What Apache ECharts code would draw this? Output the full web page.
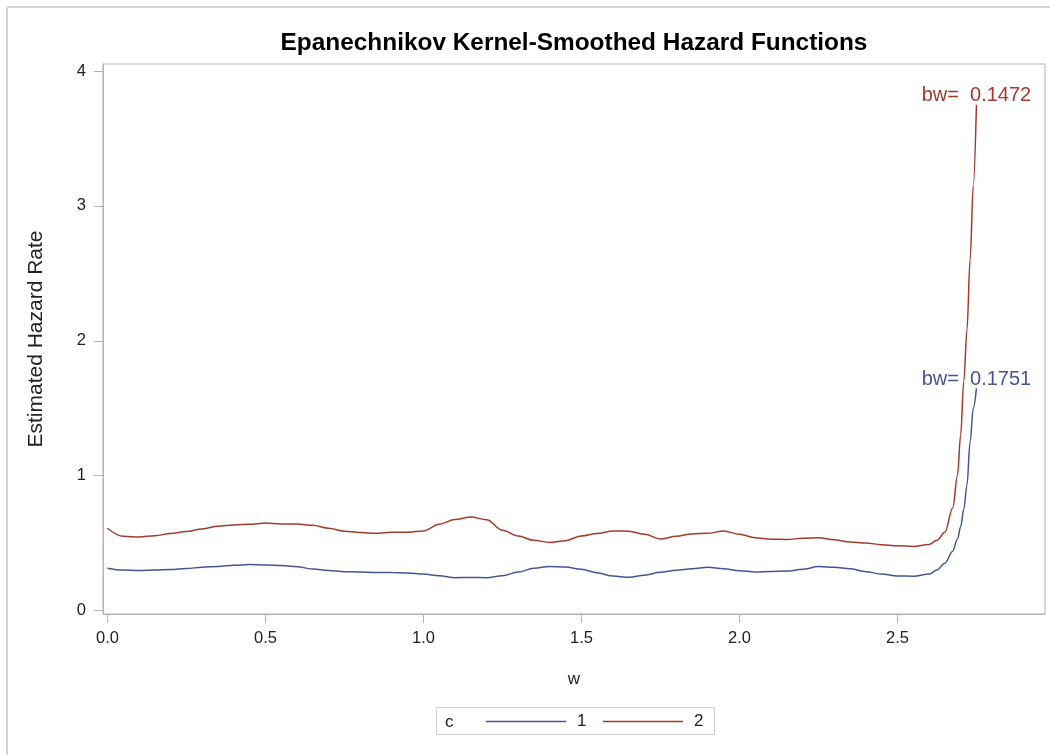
<!DOCTYPE html>
<html>
<head>
<meta charset="utf-8">
<script src="https://cdn.jsdelivr.net/npm/echarts@6/dist/echarts.min.js"></script>
<style>
  html, body { margin: 0; padding: 0; background: #fff; }
  #chart { width: 1050px; height: 755px; }
</style>
</head>
<body>
<div id="chart"></div>
<script>
// Time grid (w) shared by both hazard curves
const wValues = [
  0.00, 0.05, 0.10, 0.15, 0.20, 0.25, 0.30, 0.35, 0.40, 0.45,
  0.50, 0.55, 0.60, 0.65, 0.70, 0.75, 0.80, 0.85, 0.90, 0.95,
  1.00, 1.05, 1.10, 1.15, 1.20, 1.25, 1.30, 1.35, 1.40, 1.45,
  1.50, 1.55, 1.60, 1.65, 1.70, 1.75, 1.80, 1.85, 1.90, 1.95,
  2.00, 2.05, 2.10, 2.15, 2.20, 2.25, 2.30, 2.35, 2.40, 2.45,
  2.50, 2.55, 2.60, 2.625, 2.65, 2.675, 2.69, 2.70, 2.71, 2.72,
  2.73, 2.74, 2.75
];

// Estimated hazard rate, group c = 1
const hazard1 = [
  0.314, 0.300, 0.297, 0.300, 0.304, 0.312, 0.320, 0.327, 0.335, 0.341,
  0.338, 0.334, 0.325, 0.307, 0.296, 0.288, 0.285, 0.282, 0.281, 0.278,
  0.270, 0.258, 0.243, 0.245, 0.243, 0.258, 0.285, 0.313, 0.327, 0.322,
  0.305, 0.280, 0.255, 0.247, 0.262, 0.283, 0.298, 0.310, 0.321, 0.310,
  0.295, 0.286, 0.290, 0.292, 0.305, 0.326, 0.320, 0.309, 0.288, 0.270,
  0.256, 0.254, 0.270, 0.300, 0.350, 0.440, 0.530, 0.620, 0.750, 0.930,
  1.250, 1.500, 1.647
];

// Estimated hazard rate, group c = 2
const hazard2 = [
  0.610, 0.550, 0.545, 0.555, 0.570, 0.585, 0.605, 0.625, 0.634, 0.640,
  0.648, 0.641, 0.641, 0.632, 0.610, 0.588, 0.578, 0.572, 0.580, 0.580,
  0.590, 0.640, 0.675, 0.693, 0.673, 0.595, 0.552, 0.520, 0.505, 0.518,
  0.553, 0.570, 0.590, 0.588, 0.565, 0.530, 0.550, 0.568, 0.572, 0.590,
  0.565, 0.540, 0.528, 0.527, 0.535, 0.540, 0.524, 0.508, 0.500, 0.488,
  0.480, 0.475, 0.490, 0.520, 0.580, 0.760, 1.000, 1.300, 1.700, 2.080,
  2.600, 3.150, 3.750
];

const groupNames = ['1', '2'];
const bandwidthLabels = ['bw=  0.1751', 'bw=  0.1472'];
const xTicks = [0, 0.5, 1.0, 1.5, 2.0, 2.5];
const yTicks = [0, 1, 2, 3, 4];

const colors = ['#445694', '#A23A2E'];
const axisGray = '#aeb5ba';
const font = '"Liberation Sans", Arial, sans-serif';

const toPairs = values => values.map((v, i) => [wValues[i], v]);

function hazardSeries(idx, values) {
  return {
    name: groupNames[idx],
    type: 'line',
    data: toPairs(values),
    showSymbol: false,
    symbol: 'none',
    smooth: 0.35,
    smoothMonotone: 'x',
    lineStyle: { color: colors[idx], width: 1.5 },
    itemStyle: { color: colors[idx] },
    endLabel: {
      show: true,
      formatter: bandwidthLabels[idx],
      align: 'center',
      verticalAlign: 'bottom',
      offset: [0, 1],
      distance: 0,
      color: colors[idx],
      fontFamily: font,
      fontSize: 20
    },
    z: 3 - idx
  };
}

const chart = echarts.init(document.getElementById('chart'), null, { renderer: 'canvas' });

chart.setOption({
  backgroundColor: '#ffffff',
  animation: false,
  title: {
    text: 'Epanechnikov Kernel-Smoothed Hazard Functions',
    left: 569,
    top: 26,
    textAlign: 'center',
    textStyle: { fontFamily: font, fontSize: 24.4, fontWeight: 'bold', color: '#000' }
  },
  grid: {
    left: 103, right: 5, top: 64, bottom: 141,
    show: true,
    borderColor: axisGray,
    borderWidth: 1,
    containLabel: false
  },
  legend: {
    data: groupNames,
    icon: 'rect',
    left: 486,
    top: 713,
    itemWidth: 80,
    itemHeight: 1.5,
    itemGap: 16.5,
    padding: 0,
    textStyle: { fontFamily: font, fontSize: 17, color: '#222', padding: [0, 0, 0, 6] }
  },
  xAxis: {
    type: 'value',
    min: -0.014,
    max: 2.967,
    name: 'w',
    nameLocation: 'middle',
    nameGap: 57,
    nameTextStyle: { fontFamily: font, fontSize: 17, color: '#222' },
    axisLine: { show: true, onZero: false, lineStyle: { color: axisGray, width: 1 } },
    axisTick: { show: true, length: 9, customValues: xTicks, lineStyle: { color: axisGray } },
    axisLabel: {
      customValues: xTicks,
      margin: 16,
      fontFamily: font, fontSize: 16.5, color: '#222',
      formatter: v => v.toFixed(1)
    },
    splitLine: { show: false }
  },
  yAxis: {
    type: 'value',
    min: -0.026,
    max: 4.052,
    name: 'Estimated Hazard Rate',
    nameLocation: 'middle',
    nameGap: 56,
    nameTextStyle: { fontFamily: font, fontSize: 21, color: '#222' },
    axisLine: { show: true, onZero: false, lineStyle: { color: axisGray, width: 1 } },
    axisTick: { show: true, length: 9, customValues: yTicks, lineStyle: { color: axisGray } },
    axisLabel: {
      customValues: yTicks,
      margin: 17,
      fontFamily: font, fontSize: 16.5, color: '#222',
      formatter: v => String(v)
    },
    splitLine: { show: false }
  },
  series: [
    hazardSeries(0, hazard1),
    hazardSeries(1, hazard2)
  ],
  graphic: [
    // outer frame edges
    { type: 'line', shape: { x1: 7, y1: 7, x2: 1050, y2: 7 }, style: { stroke: '#d4d4d4', lineWidth: 2 }, silent: true },
    { type: 'line', shape: { x1: 7, y1: 7, x2: 7, y2: 755 }, style: { stroke: '#d4d4d4', lineWidth: 2 }, silent: true },
    // legend box and its title
    { type: 'rect', shape: { x: 436.5, y: 707.5, width: 278, height: 27 }, style: { fill: 'none', stroke: '#cfcfcf', lineWidth: 1 }, silent: true },
    { type: 'text', left: 445, top: 714, style: { text: 'c', fontFamily: font, fontSize: 17, fill: '#222' }, silent: true }
  ]
});
</script>
</body>
</html>
